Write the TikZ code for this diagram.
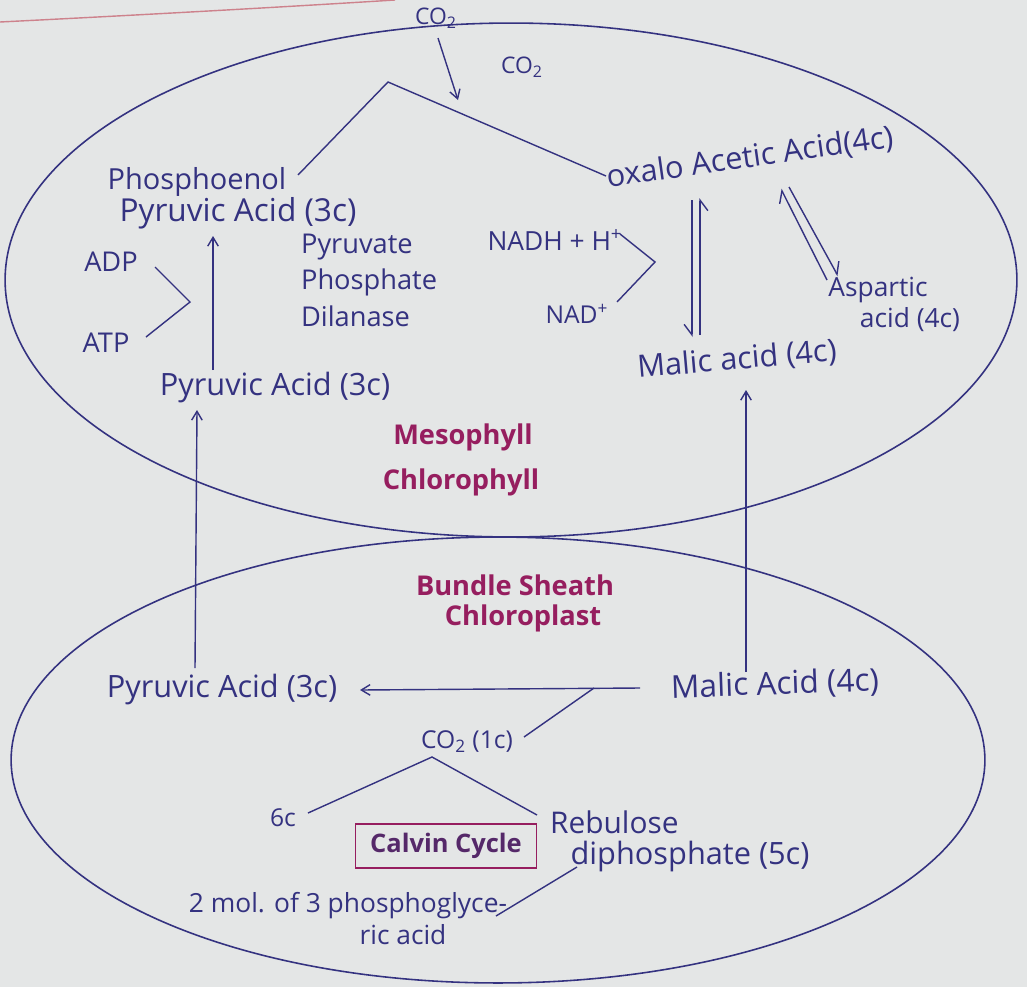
\documentclass[tikz,border=0pt]{standalone}
\usepackage{fontspec}
\setmainfont{Open Sans}
\usetikzlibrary{arrows.meta}
\definecolor{paper}{RGB}{228,230,230}
\definecolor{ink}{RGB}{52,50,128}
\definecolor{mag}{RGB}{150,30,95}
\definecolor{boxink}{RGB}{85,40,105}
\definecolor{margin}{RGB}{205,130,140}
\begin{document}
\begin{tikzpicture}[x=0.02cm,y=-0.02cm,
  txt/.style={text=ink, inner sep=1pt, font=\fontsize{#1}{#1}\selectfont},
  txt/.default=17.5,
  cell/.style={text=mag, inner sep=1pt, font=\fontsize{15.5}{16}\selectfont\bfseries},
  ln/.style={draw=ink, line width=0.8pt},
  arr/.style={ln, -{Straight Barb[length=5pt,width=6pt]}},
  harpL/.style={ln, -{Straight Barb[left,length=6pt,width=9pt]}},
  harpR/.style={ln, -{Straight Barb[right,length=6pt,width=9pt]}},
  calvin/.style={draw=mag, line width=1pt, text=boxink, inner sep=4pt,
    minimum width=181*0.02cm, minimum height=44*0.02cm,
    font=\fontsize{14.5}{16}\selectfont\bfseries}
]
\fill[paper] (0,0) rectangle (1027,987);
\useasboundingbox (0,0) rectangle (1027,987);
% margin line of the paper
\draw[margin, line width=0.8pt] (0,22) .. controls (160,14) and (300,6) .. (395,0);

% cell outlines
\draw[ink, line width=0.9pt] (511,280) ellipse [x radius=10.12cm, y radius=5.14cm];
\draw[ink, line width=0.9pt] (498,760) ellipse [x radius=9.74cm, y radius=4.46cm];

% ---------- mesophyll ----------
\node[txt=13] (co2a) at (436,18) {CO\textsubscript{2}};
\node[txt=13] (co2b) at (522,67) {CO\textsubscript{2}};
\coordinate (co2s) at (438,38);
\coordinate (co2e) at (458,100);
\draw[arr] (co2s) -- (co2e);

\coordinate (apex) at (388,82);
\node[txt=16.5] (phos) at (197,182) {Phosphoenol};
\node[txt=18] (pyr1) at (238,213) {Pyruvic Acid (3c)};
\node[txt=17.5, rotate=8] (oaa) at (750,158) {oxalo Acetic Acid(4c)};
\coordinate (tl) at (298,175);
\coordinate (tr) at (606,176);
\draw[ln] (tl) -- (apex) -- (tr);

\node[txt=15.5] (adp) at (111,262) {ADP};
\node[txt=15.5] (atp) at (106,343) {ATP};
\coordinate (b1) at (155,267);
\coordinate (b2) at (190,302);
\coordinate (b3) at (146,337);
\draw[ln] (b1) -- (b2) -- (b3);

\node[txt=17.5] (pyr2) at (275,388) {Pyruvic Acid (3c)};
\draw[arr] (213,370) -- (213,236);

\node[txt=15.5, anchor=west] (enz1) at (299,247) {Pyruvate};
\node[txt=15.5, anchor=west] (enz2) at (299,282) {Phosphate};
\node[txt=15.5, anchor=west] (enz3) at (299,316) {Dilanase};

\node[txt=15] (nadh) at (555,240) {NADH + H\textsuperscript{+}};
\node[txt=14] (nad) at (577,314) {NAD\textsuperscript{+}};
\coordinate (n1) at (620,234);
\coordinate (n2) at (655,262);
\coordinate (n3) at (617,302);
\draw[ln] (n1) -- (n2) -- (n3);

\node[txt=17.5, rotate=5] (mal1) at (737,360) {Malic acid (4c)};
% oxaloacetate <=> malate
\draw[harpR] (692,200) -- (692,337);
\draw[harpR] (700,335) -- (700,198);
% oxaloacetate <=> aspartate
\draw[harpL] (827,280) -- (781,189);
\draw[harpL] (789,187) -- (838,276);
\node[txt=15, inner sep=0pt] (asp1) at (878,290) {Aspartic};
\node[txt=15, inner sep=0pt] (asp2) at (910,320) {acid (4c)};

\node[cell] (meso1) at (463,437) {Mesophyll};
\node[cell] (meso2) at (461,482) {Chlorophyll};

% ---------- bundle sheath ----------
\node[cell] (bs1) at (515,585) {Bundle Sheath};
\node[cell] (bs2) at (523,618) {Chloroplast};

\node[txt=17.5] (pyr3) at (222,690) {Pyruvic Acid (3c)};
\node[txt=18, rotate=2] (mal2) at (775,685) {Malic Acid (4c)};
\coordinate (ms) at (640,688);
\coordinate (me) at (360,690);
\draw[arr] (ms) -- (me);
\draw[arr] (195,668) -- (197,410);
\draw[arr] (746,672) -- (746,390);

\coordinate (br) at (594,688);
\node[txt=14] (co2c) at (467,742) {CO\textsubscript{2} (1c)};
\coordinate (bre) at (524,737);
\draw[ln] (br) -- (bre);

\coordinate (apex2) at (432,757);
\coordinate (al) at (308,813);
\coordinate (ar) at (537,815);
\draw[ln] (al) -- (apex2) -- (ar);
\node[txt=14] (sixc) at (283,818) {6c};
\node[txt=17, anchor=west] (rub1) at (548,822) {Rebulose};
\node[txt=17.5] (rub2) at (690,856) {diphosphate (5c)};

\node[calvin] (cc) at (446,846) {Calvin Cycle};

\coordinate (pg1) at (577,867);
\coordinate (pg2) at (496,916);
\draw[ln] (pg1) -- (pg2);
\node[txt=15] (pga1) at (348,906) {2 mol. of 3 phosphoglyce-};
\node[txt=15] (pga2) at (403,935) {ric acid};
\end{tikzpicture}
\end{document}
